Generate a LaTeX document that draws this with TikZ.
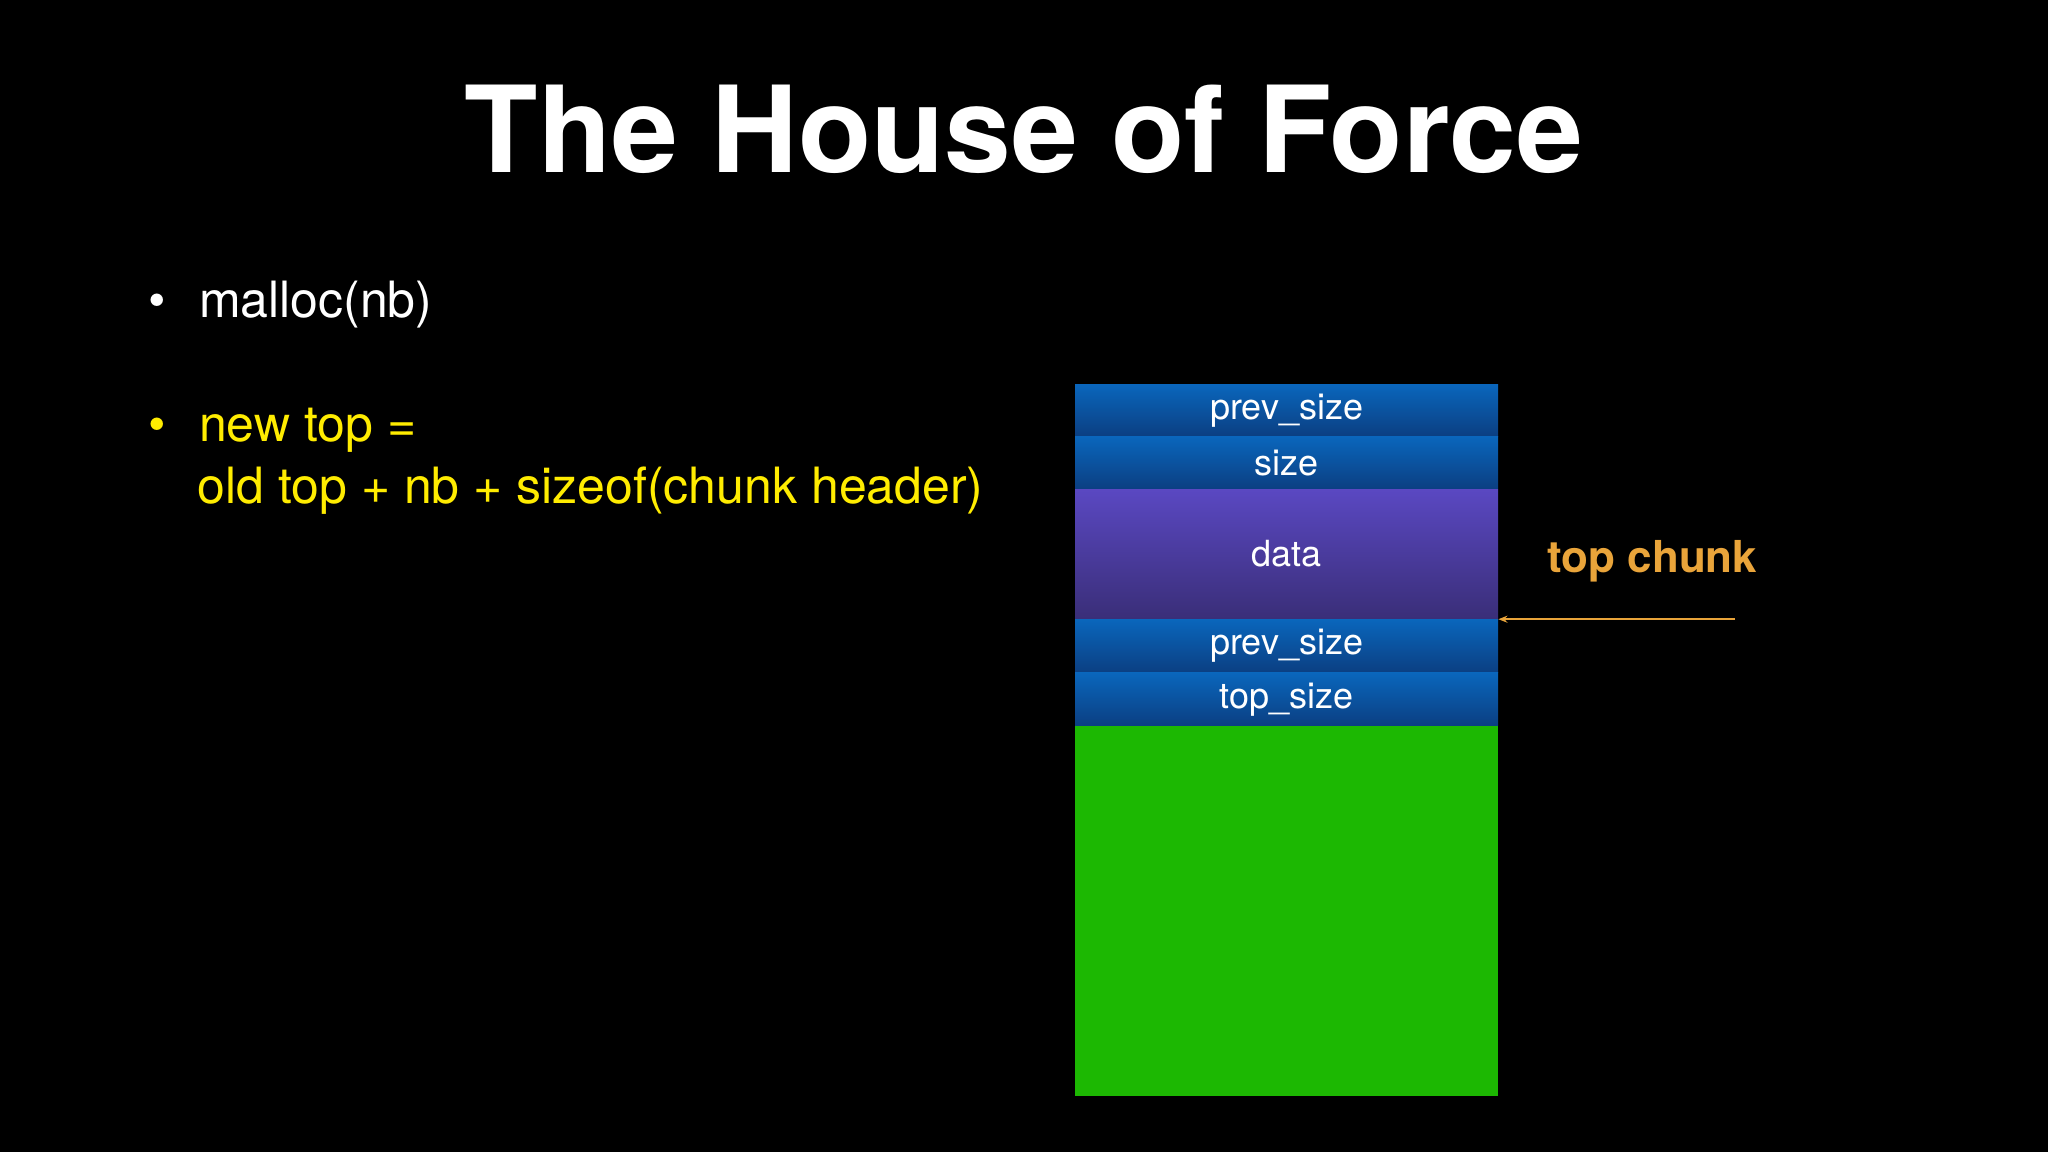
\documentclass[tikz,border=0pt]{standalone}
\usepackage{fontspec}
\setmainfont{TeX Gyre Heros}
\usetikzlibrary{positioning,arrows.meta,shadings}
\definecolor{hdrtop}{HTML}{0A66BC}
\definecolor{hdrbot}{HTML}{0B3F82}
\definecolor{datatop}{HTML}{5A48C2}
\definecolor{databot}{HTML}{3A2E78}
\definecolor{topgreen}{HTML}{1CB802}
\definecolor{slideyel}{HTML}{FFEC00}
\definecolor{chunkorg}{HTML}{E9A43A}
\tikzstyle{hbox}=[rectangle, top color=hdrtop, bottom color=hdrbot, inner sep=0pt,
                  minimum width=423pt, minimum height=52pt, text=white, text centered,
                  font=\fontsize{36}{40}\selectfont]
\tikzstyle{dbox}=[hbox, top color=datatop, bottom color=databot, minimum height=130pt]
\tikzstyle{gbox}=[rectangle, fill=topgreen, inner sep=0pt, minimum width=423pt, minimum height=370pt]
\tikzstyle{pline}=[-{Stealth[length=9pt,width=7pt]}, chunkorg, line width=1.6pt]

\begin{document}
\begin{tikzpicture}[x=1pt,y=-1pt,node distance=0pt]
\useasboundingbox[fill=black] (0,0) rectangle (2048,1152);

\node (TITLE) [anchor=base, text=white, font=\bfseries\fontsize{120}{130}\selectfont] at (1024,172) {The House of Force};

\node (B1) [anchor=base west, text=white, font=\fontsize{50}{60}\selectfont] at (145,317) {\textbullet\hspace{33pt}malloc(nb)};
\node (B2) [anchor=base west, text=slideyel, font=\fontsize{50}{60}\selectfont] at (145,441) {\textbullet\hspace{33pt}new top =};
\node (B3) [anchor=base west, text=slideyel, font=\fontsize{50}{60}\selectfont] at (194,503) {old top + nb + sizeof(chunk header)};

\node (PREV) [hbox, anchor=north west] at (1075,384) {prev\_size};
\node (SIZE) [hbox, below=of PREV] {size};
\node (DATA) [dbox, below=of SIZE] {data};
\node (TPREV) [hbox, below=of DATA, minimum height=53pt] {prev\_size};
\node (TSIZE) [hbox, below=of TPREV, minimum height=53pt] {top\_size};
\node (TOP) [gbox, below=of TSIZE] {};

\node (LBL) [anchor=base west, text=chunkorg, font=\bfseries\fontsize{44}{50}\selectfont] at (1544,572) {top chunk};
\coordinate (ARRX) at (1735,0);
\draw[pline] (ARRX |- DATA.south east) -- (DATA.south east);

\end{tikzpicture}
\end{document}
